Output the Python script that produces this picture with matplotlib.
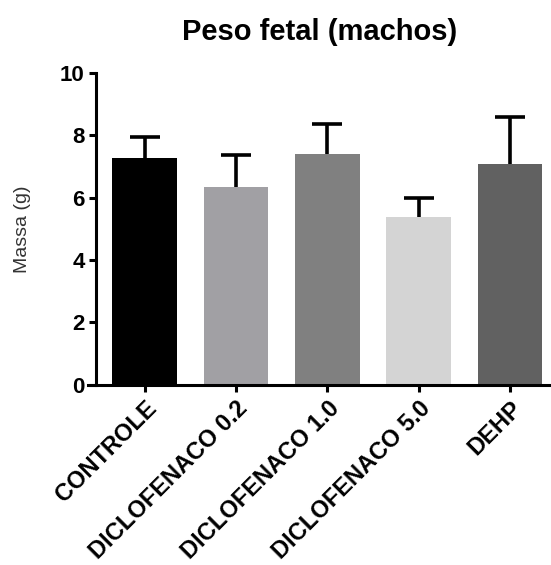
import numpy as np
import matplotlib
matplotlib.use('Agg')
import matplotlib.pyplot as plt

plt.rcParams['font.family'] = ['Liberation Sans', 'DejaVu Sans']

#
# Data - fetal weight (males), mean and SD
grupos = ['CONTROLE', 'DICLOFENACO 0.2', 'DICLOFENACO 1.0', 'DICLOFENACO 5.0', 'DEHP']
massa = [7.27, 6.34, 7.40, 5.37, 7.08]
desvio = [0.66, 1.03, 0.97, 0.63, 1.49]
cores = ['#000000', '#a1a0a4', '#808080', '#d4d4d4', '#616161']
#
# Figure
fig = plt.figure(figsize=(5.51, 5.65), dpi=100)
ax = fig.add_axes([0.16, 0.319, 0.84, 0.552])

x = np.arange(len(grupos))
ax.bar(x, massa, width=0.71, color=cores, zorder=2)
#
# Only the upper half of the error bar is drawn
eb = ax.errorbar(x, massa, yerr=[np.zeros(len(desvio)), desvio], fmt='none',
                 ecolor='black', elinewidth=2.6, capsize=10.5, capthick=2.6, zorder=3)
eb[1][0].set_visible(False)
#
# Axes style
ax.set_xlim(-0.62, 4.45)
ax.set_ylim(0, 10)
ax.spines['top'].set_visible(False)
ax.spines['right'].set_visible(False)
ax.spines['left'].set_position(('data', -0.53))
ax.spines['left'].set_linewidth(2.2)
ax.spines['bottom'].set_linewidth(2.2)
ax.tick_params(axis='both', direction='out', length=5, width=2.2)

ax.set_yticks([0, 2, 4, 6, 8, 10])
ax.set_yticklabels(['0', '2', '4', '6', '8', '10'], fontsize=16, fontweight='bold')
ax.set_xticks(x)
ax.set_xticklabels(grupos, rotation=45, ha='right', rotation_mode='anchor',
                   fontsize=17, fontweight='bold')

ax.set_ylabel('Massa (g)', fontsize=14, color='#333333', labelpad=21)
ax.set_title('Peso fetal (machos)', fontsize=21, fontweight='bold', pad=24)

fig.savefig('out.png', dpi=100)
